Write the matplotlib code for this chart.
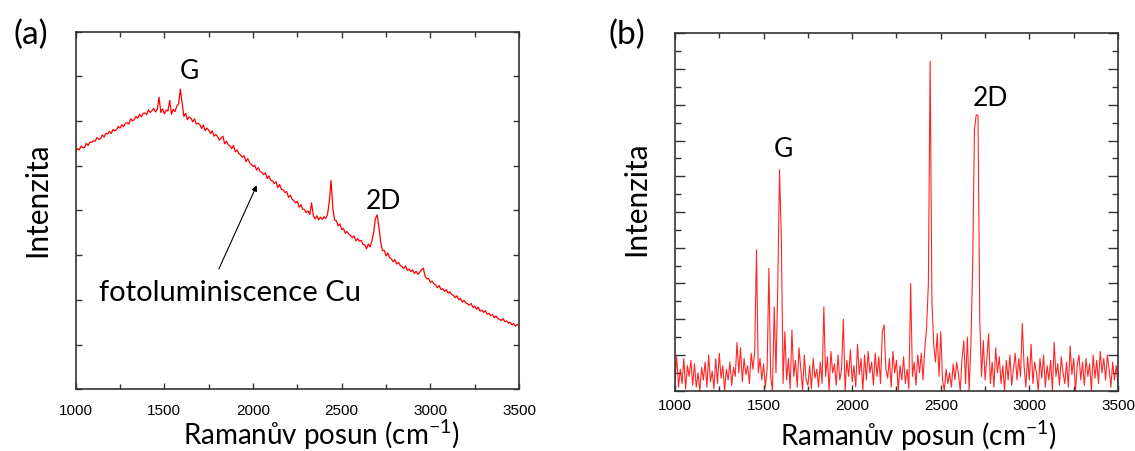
import numpy as np
import matplotlib
matplotlib.use('Agg')
import matplotlib.pyplot as plt
from matplotlib.ticker import MultipleLocator

plt.rcParams['font.family'] = ['Lato', 'DejaVu Sans']
plt.rcParams['mathtext.fontset'] = 'custom'
plt.rcParams['mathtext.rm'] = 'Lato'
plt.rcParams['mathtext.it'] = 'Lato:italic'

# ─── Data (10 cm-1 steps) ──────────────────────────────────────────────
shift = np.arange(1000, 3501, 10)

# (a) raw spectrum with Cu photoluminescence background
intens_a = [
    5.32, 5.38, 5.35, 5.44, 5.40, 5.41, 5.50, 5.45, 5.53, 5.52, 5.56,
    5.55, 5.63, 5.59, 5.60, 5.69, 5.64, 5.72, 5.71, 5.77, 5.72,
    5.81, 5.78, 5.80, 5.88, 5.84, 5.92, 5.87, 5.95, 5.96, 5.93,
    6.05, 6.00, 6.03, 6.10, 6.06, 6.15, 6.09, 6.17, 6.18, 6.14,
    6.25, 6.19, 6.23, 6.28, 6.20, 6.26, 6.53, 6.19, 6.27, 6.16,
    6.24, 6.22, 6.46, 6.15, 6.26, 6.21, 6.33, 6.38, 6.71, 6.40,
    6.10, 6.17, 6.03, 6.09, 6.06, 5.98, 6.05, 5.93, 5.95, 5.92,
    5.83, 5.91, 5.78, 5.84, 5.80, 5.72, 5.78, 5.66, 5.70, 5.65,
    5.57, 5.62, 5.66, 5.49, 5.55, 5.47, 5.44, 5.38, 5.45, 5.31,
    5.35, 5.27, 5.24, 5.19, 5.22, 5.09, 5.16, 5.07, 5.03, 4.98,
    5.01, 4.90, 4.96, 4.87, 4.85, 4.80, 4.84, 4.71, 4.77, 4.67,
    4.66, 4.60, 4.64, 4.51, 4.58, 4.47, 4.46, 4.40, 4.42, 4.29,
    4.34, 4.25, 4.22, 4.17, 4.20, 4.07, 4.13, 4.03, 4.02, 3.95,
    3.99, 3.91, 4.17, 3.88, 3.81, 3.88, 3.79, 3.85, 3.80, 3.86,
    3.82, 3.91, 4.20, 4.67, 4.05, 3.78, 3.77, 3.65, 3.70, 3.57,
    3.60, 3.49, 3.53, 3.47, 3.44, 3.39, 3.43, 3.32, 3.37, 3.31,
    3.33, 3.24, 3.23, 3.14, 3.25, 3.18, 3.31, 3.50, 3.82, 3.90,
    3.62, 3.28, 3.10, 3.11, 2.98, 3.05, 2.95, 2.92, 2.85, 2.90,
    2.80, 2.84, 2.77, 2.74, 2.70, 2.76, 2.66, 2.69, 2.63, 2.67,
    2.59, 2.64, 2.57, 2.62, 2.67, 2.71, 2.53, 2.47, 2.48, 2.39,
    2.42, 2.36, 2.33, 2.27, 2.32, 2.23, 2.25, 2.19, 2.23, 2.15,
    2.18, 2.12, 2.10, 2.05, 2.09, 2.00, 2.03, 1.95, 1.99, 1.93,
    1.91, 1.88, 1.92, 1.83, 1.86, 1.79, 1.84, 1.75, 1.77, 1.72,
    1.76, 1.68, 1.70, 1.65, 1.67, 1.60, 1.64, 1.58, 1.56, 1.54,
    1.58, 1.51, 1.53, 1.48, 1.50, 1.44, 1.47, 1.41, 1.45, 1.43,
]

# (b) spectrum after background subtraction
intens_b = [
    0.30, 0.95, 0.10, 0.60, 0.20, 0.90, 0.05, 0.70, 0.40, 0.85, 0.15,
    0.75, 0.10, 0.50, 0.00, 0.65, 0.30, 0.80, 0.10, 1.00, 0.25,
    0.55, 0.05, 0.90, 0.20, 1.05, 0.35, 0.70, 0.00, 0.60, 0.30,
    0.80, 0.15, 0.65, 0.40, 1.35, 0.50, 1.20, 0.25, 0.90, 0.45,
    0.70, 0.20, 1.05, 0.60, 1.10, 3.94, 0.50, 0.90, 0.30, 0.75,
    0.10, 0.60, 3.42, 0.40, 0.00, 2.35, 0.50, 2.91, 6.18, 4.30,
    0.20, 1.65, 0.30, 0.90, 0.05, 1.70, 0.40, 0.85, 0.10, 1.20,
    0.60, 0.00, 1.00, 0.30, 0.15, 0.70, 0.05, 0.90, 0.35, 0.60,
    0.10, 0.80, 0.20, 2.35, 0.40, 0.95, 0.00, 1.10, 0.50, 0.75,
    0.15, 1.00, 0.30, 0.60, 2.00, 0.00, 0.85, 0.40, 1.15, 0.25,
    0.70, 0.10, 1.30, 0.45, 0.90, 0.00, 1.00, 0.30, 1.10, 0.50,
    0.80, 0.15, 1.05, 0.40, 0.95, 0.20, 1.65, 1.84, 0.60, 0.35,
    0.90, 0.10, 1.10, 0.50, 0.85, 0.00, 0.70, 0.30, 0.95, 0.20,
    0.60, 0.05, 3.00, 0.40, 0.80, 0.15, 1.00, 0.50, 1.05, 0.30,
    1.20, 1.75, 3.00, 9.22, 2.50, 1.30, 0.80, 1.60, 0.40, 1.65,
    0.30, 0.00, 0.60, 0.20, 0.50, 0.10, 0.75, 0.30, 0.80, 0.45,
    0.00, 0.90, 1.40, 0.20, 1.50, 0.00, 1.30, 3.50, 7.30, 7.72,
    7.70, 2.00, 0.40, 1.40, 0.30, 0.90, 1.60, 0.20, 0.80, 0.10,
    1.20, 0.50, 0.95, 0.20, 0.70, 0.00, 0.85, 0.30, 1.00, 0.15,
    0.60, 1.05, 0.30, 0.90, 0.40, 1.88, 0.70, 0.10, 0.95, 0.30,
    1.30, 0.20, 0.80, 0.50, 0.00, 0.90, 0.35, 1.00, 0.10, 0.70,
    0.30, 0.85, 0.00, 1.35, 0.40, 0.75, 0.15, 0.95, 0.50, 0.20,
    0.80, 0.10, 1.25, 0.45, 0.90, 0.00, 0.70, 1.00, 0.30, 0.80,
    0.15, 0.90, 0.40, 0.75, 0.00, 1.00, 0.35, 0.85, 0.20, 1.10,
    0.50, 0.90, 0.30, 1.00, 0.60, 0.10, 0.80, 0.30, 0.70, 0.20,
]

XLABEL = 'Ramanův posun (cm$^{-1}$)'
YLABEL = 'Intenzita'
TICK_FONT = 'Liberation Sans'

fig = plt.figure(figsize=(11.35, 4.51), dpi=100)
ax_a = fig.add_axes([0.0667, 0.1368, 0.3906, 0.7933])
ax_b = fig.add_axes([0.5947, 0.1337, 0.3903, 0.7925])


def style_axes(ax, ymax, label_pad):
    ax.set_xlim(1000, 3500)
    ax.set_ylim(0, ymax)
    ax.xaxis.set_major_locator(MultipleLocator(500))
    ax.xaxis.set_minor_locator(MultipleLocator(250))
    ax.tick_params(which='both', direction='in', top=True, right=True,
                   color='#333333', width=1.0)
    ax.tick_params(axis='x', which='major', length=4, pad=label_pad)
    ax.tick_params(axis='x', which='minor', length=3.5)
    for lab in ax.get_xticklabels():
        lab.set_fontfamily(TICK_FONT)
        lab.set_fontsize(11)
    for sp in ax.spines.values():
        sp.set_color('#333333')
        sp.set_linewidth(1.2)


# ─── (a) ───────────────────────────────────────────────────────────────
ax_a.plot(shift, intens_a, color='red', linewidth=0.9)
style_axes(ax_a, 8, 10.5)
ax_a.yaxis.set_major_locator(MultipleLocator(1))
ax_a.tick_params(axis='y', which='major', length=4)
ax_a.set_yticklabels([])

ax_a.set_xlabel(XLABEL, fontsize=20, va='center')
ax_a.xaxis.set_label_coords(0.555, -0.127)
ax_a.set_ylabel(YLABEL, fontsize=21.5, va='center')
ax_a.yaxis.set_label_coords(-0.086, 0.529)

ax_a.text(1642, 7.1, 'G', fontsize=19, ha='center', va='center')
ax_a.text(2733, 4.2, '2D', fontsize=19, ha='center', va='center')
ax_a.annotate('', xy=(2021, 4.56), xytext=(1807, 2.69),
              arrowprops=dict(arrowstyle='-|>', color='black', lw=0.8,
                              mutation_scale=8, shrinkA=0, shrinkB=0))
ax_a.text(1868, 2.15, 'fotoluminiscence Cu', fontsize=21,
          ha='center', va='center')

# ─── (b) ───────────────────────────────────────────────────────────────
ax_b.plot(shift, intens_b, color='red', linewidth=0.8, alpha=0.85)
style_axes(ax_b, 10, 6)
ax_b.yaxis.set_major_locator(MultipleLocator(1))
ax_b.yaxis.set_minor_locator(MultipleLocator(0.5))
ax_b.tick_params(axis='y', which='major', length=7)
ax_b.tick_params(axis='y', which='minor', length=4)
ax_b.set_yticklabels([])

ax_b.set_xlabel(XLABEL, fontsize=20, va='center')
ax_b.xaxis.set_label_coords(0.549, -0.126)
ax_b.set_ylabel(YLABEL, fontsize=21.5, va='center')
ax_b.yaxis.set_label_coords(-0.088, 0.538)

ax_b.text(1611, 6.74, 'G', fontsize=19, ha='center', va='center')
ax_b.text(2781, 8.17, '2D', fontsize=19, ha='center', va='center')

# panel letters
fig.text(31 / 1135, 1 - 35 / 451, '(a)', fontsize=24, ha='center', va='center')
fig.text(627 / 1135, 1 - 35 / 451, '(b)', fontsize=24, ha='center', va='center')

fig.savefig('out.png', dpi=100)
